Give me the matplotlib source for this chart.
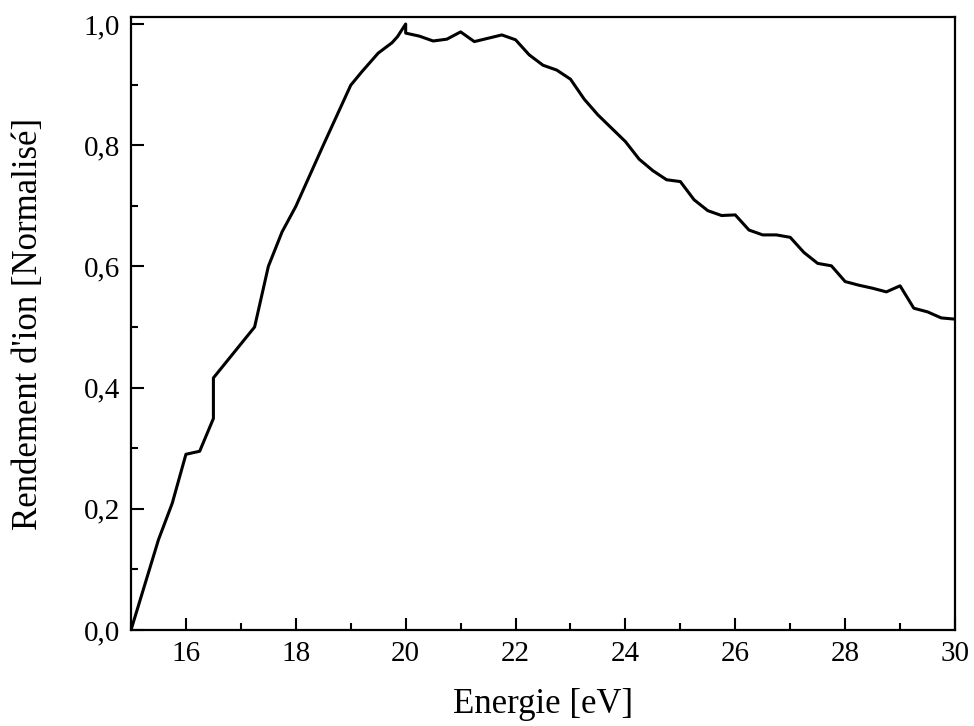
import numpy as np
import matplotlib.pyplot as plt
from matplotlib.ticker import MultipleLocator, FuncFormatter

# Energie [eV] vs rendement d'ion normalise
energie = [15.0, 15.5, 15.75, 16.0, 16.25, 16.5, 16.5, 17.25, 17.5, 17.75,
           18.0, 18.5, 19.0, 19.2, 19.5, 19.75, 19.85, 20.0, 20.0, 20.25,
           20.5, 20.75, 21.0, 21.25, 21.75, 22.0, 22.25, 22.5, 22.75, 23.0,
           23.25, 23.5, 23.75, 24.0, 24.25, 24.5, 24.75, 25.0, 25.25, 25.5,
           25.75, 26.0, 26.25, 26.5, 26.75, 27.0, 27.25, 27.5, 27.75, 28.0,
           28.25, 28.5, 28.75, 29.0, 29.25, 29.5, 29.75, 30.0]
rendement = [0.0, 0.149, 0.209, 0.290, 0.295, 0.349, 0.416, 0.500, 0.600, 0.657,
             0.699, 0.800, 0.899, 0.921, 0.952, 0.969, 0.979, 1.0, 0.985, 0.980,
             0.972, 0.975, 0.987, 0.971, 0.982, 0.974, 0.949, 0.932, 0.924, 0.909,
             0.876, 0.850, 0.828, 0.806, 0.777, 0.758, 0.743, 0.740, 0.710, 0.692,
             0.684, 0.685, 0.660, 0.652, 0.652, 0.648, 0.623, 0.605, 0.601, 0.575,
             0.569, 0.564, 0.558, 0.568, 0.531, 0.525, 0.515, 0.513]

plt.rcParams['font.family'] = ['Liberation Serif', 'DejaVu Serif']

fig = plt.figure(figsize=(9.74, 7.26), dpi=100)
ax = fig.add_axes([0.1345, 0.1322, 0.846, 0.8444])

ax.plot(energie, rendement, color='black', lw=2.2)

ax.set_xlim(15, 30)
ax.set_ylim(0, 1.0116)
ax.xaxis.set_major_locator(MultipleLocator(2))
ax.xaxis.set_minor_locator(MultipleLocator(1))
ax.yaxis.set_major_locator(MultipleLocator(0.2))
ax.yaxis.set_minor_locator(MultipleLocator(0.1))
ax.xaxis.set_major_formatter(FuncFormatter(lambda v, p: f'{v:.0f}'))
ax.yaxis.set_major_formatter(FuncFormatter(lambda v, p: f'{v:.1f}'.replace('.', ',')))

ax.tick_params(which='both', direction='in', top=False, right=False, width=1.5)
ax.tick_params(which='major', length=9, labelsize=21, pad=8)
ax.tick_params(which='minor', length=5)
for s in ax.spines.values():
    s.set_linewidth(1.6)

ax.set_xlabel('Energie [eV]', fontsize=25, labelpad=15)
ax.set_ylabel("Rendement d'ion [Normalisé]", fontsize=25, labelpad=28)

fig.savefig('out.png', dpi=100)
